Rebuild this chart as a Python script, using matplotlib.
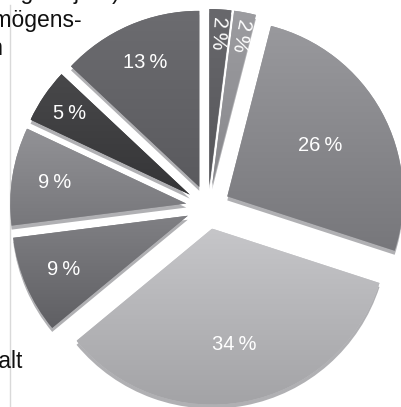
import numpy as np
import matplotlib
matplotlib.use('Agg')
import matplotlib.pyplot as plt
from matplotlib.colors import LinearSegmentedColormap
from matplotlib.patches import Wedge
from matplotlib.lines import Line2D

plt.rcParams['font.family'] = ['Liberation Sans', 'DejaVu Sans']

# Daten
anteile = [2, 2, 26, 34, 9, 9, 5, 13]
labels = ['2\u2009%', '2\u2009%', '26\u2009%', '34\u2009%', '9\u2009%', '9\u2009%', '5\u2009%', '13\u2009%']
farben_oben = ['#68686c', '#9c9ca0', '#99999d', '#c6c6c9', '#808084', '#929296', '#48484a', '#6c6c70']
farben_unten = ['#56565a', '#88888c', '#77777b', '#a3a3a6', '#5f5f63', '#77777b', '#353537', '#5a5a5e']
radial = [True, True, False, False, False, False, False, False]
label_r = [0.865, 0.87, 0.6, 0.67, 0.77, 0.76, 0.825, 0.77]

W, H = 402, 407
cx, cy, R = 208, 207, 176  # pixel
explode = 0.125

fig = plt.figure(figsize=(W / 100, H / 100), dpi=100)
ax = fig.add_axes([0, 0, 1, 1])
ax.axis('off')

xlim = (-cx / R, (W - cx) / R)
ylim = (-(H - cy) / R, cy / R)

# duenne graue Linie links
fig.add_artist(Line2D([10 / W, 10 / W], [0, 1 - 5 / H], color='#d9d9d9', lw=1.0, zorder=0))

wedges, _ = ax.pie(anteile, startangle=90, counterclock=False,
                   explode=[explode] * len(anteile), radius=1.0,
                   colors=farben_oben, wedgeprops=dict(linewidth=0))

dy = 4 / R
for i, w in enumerate(wedges):
    w.set_zorder(3)
    # 3D-Kante unten
    sh = Wedge((w.center[0], w.center[1] - dy), w.r, w.theta1, w.theta2,
               facecolor='#b0b0b3', linewidth=0, zorder=2)
    ax.add_patch(sh)
    # Verlauf
    cmap = LinearSegmentedColormap.from_list('g%d' % i, [farben_unten[i], farben_oben[i]])
    grad = np.linspace(0, 1, 256).reshape(-1, 1)
    bb = w.get_path().get_extents(w.get_patch_transform())
    im = ax.imshow(grad, cmap=cmap, origin='lower', aspect='auto',
                   extent=(bb.x0, bb.x1, bb.y0, bb.y1), zorder=4)
    im.set_clip_path(w)

    mid = np.deg2rad((w.theta1 + w.theta2) / 2)
    r = explode + label_r[i]
    rot = np.rad2deg(mid) - 180 if radial[i] else 0
    ax.text(r * np.cos(mid), r * np.sin(mid), labels[i], color='white',
            fontsize=14.5, ha='center', va='center', rotation=rot,
            rotation_mode='anchor', zorder=6)

ax.set_xlim(*xlim)
ax.set_ylim(*ylim)
ax.set_aspect('auto')

# Textreste links
fs = 16.5
fig.text(120 / W, 1 - (-1) / H, '(Stichtag Vorjahr)', ha='right', va='baseline', fontsize=fs, color='#111111')
fig.text(83 / W, 1 - 27 / H, 'Vermögens-', ha='right', va='baseline', fontsize=fs, color='#111111')
fig.text(3.5 / W, 1 - 55 / H, 'Anlagen', ha='right', va='baseline', fontsize=fs, color='#111111')
fig.text(22 / W, 1 - 368 / H, 'Haushalt', ha='right', va='baseline', fontsize=fs, color='#111111')

fig.savefig('out.png', dpi=100, facecolor='white')
